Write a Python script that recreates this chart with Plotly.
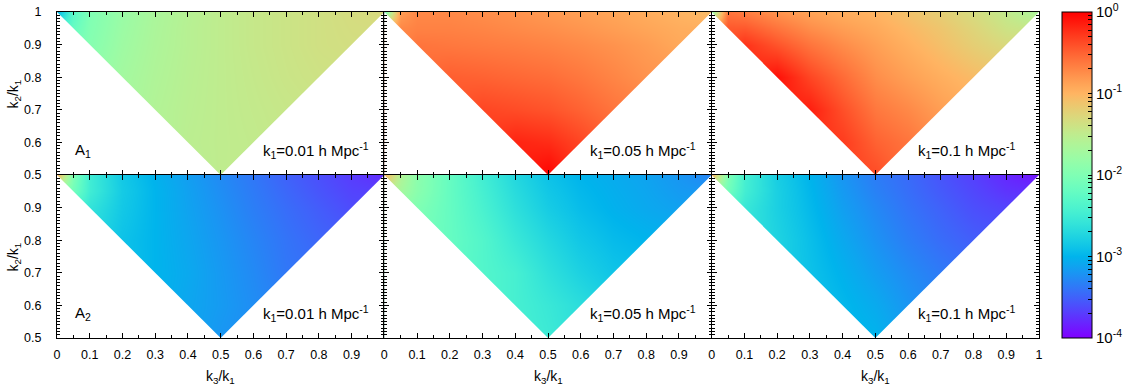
import math
import plotly.graph_objects as go
from plotly.subplots import make_subplots

N = None
# grid nodes (k3/k1 across, k2/k1 up); None = outside the triangle k3 <= k2, k2 + k3 >= k1
K3 = [0.0, 0.05, 0.1, 0.2, 0.3, 0.4, 0.5, 0.6, 0.7, 0.8, 0.9, 1.0]
K2 = [0.5, 0.6, 0.7, 0.8, 0.9, 0.95, 1.0]

# log10 of the amplitude, rows follow K2 (bottom to top)
A1_K001 = [
    [N, N, N, N, N, N, -1.50, N, N, N, N, N],
    [N, N, N, N, N, -1.53, -1.50, -1.48, N, N, N, N],
    [N, N, N, N, -1.60, -1.54, -1.50, -1.47, -1.44, N, N, N],
    [N, N, N, -1.72, -1.62, -1.55, -1.50, -1.46, -1.42, -1.39, N, N],
    [N, N, -1.95, -1.76, -1.64, -1.56, -1.50, -1.45, -1.41, -1.37, -1.35, N],
    [N, -2.20, -1.98, -1.78, -1.65, -1.56, -1.50, -1.45, -1.41, -1.37, -1.34, N],
    [-3.00, -2.30, -2.00, -1.80, -1.66, -1.57, -1.50, -1.45, -1.41, -1.37, -1.33, -1.30],
]
A1_K005 = [
    [N, N, N, N, N, N, -0.02, N, N, N, N, N],
    [N, N, N, N, N, -0.18, -0.22, -0.35, N, N, N, N],
    [N, N, N, N, -0.35, -0.38, -0.42, -0.50, -0.60, N, N, N],
    [N, N, N, -0.48, -0.50, -0.53, -0.56, -0.62, -0.70, -0.78, N, N],
    [N, N, -0.60, -0.62, -0.64, -0.66, -0.69, -0.73, -0.78, -0.84, -0.92, N],
    [N, -0.72, -0.68, -0.68, -0.70, -0.73, -0.76, -0.80, -0.85, -0.90, -0.95, N],
    [-2.00, -0.85, -0.72, -0.72, -0.75, -0.78, -0.82, -0.86, -0.90, -0.95, -1.00, -1.05],
]
A1_K01 = [
    [N, N, N, N, N, N, -0.38, N, N, N, N, N],
    [N, N, N, N, N, -0.30, -0.50, -0.60, N, N, N, N],
    [N, N, N, N, -0.15, -0.40, -0.62, -0.72, -0.85, N, N, N],
    [N, N, N, -0.08, -0.35, -0.55, -0.75, -0.86, -0.96, -1.05, N, N],
    [N, N, -0.25, -0.42, -0.60, -0.74, -0.86, -0.97, -1.08, -1.20, -1.30, N],
    [N, -0.45, -0.45, -0.60, -0.75, -0.85, -0.93, -1.03, -1.13, -1.26, -1.40, N],
    [-1.80, -0.60, -0.65, -0.78, -0.88, -0.95, -1.00, -1.10, -1.20, -1.33, -1.48, -1.65],
]
A2_K001 = [
    [N, N, N, N, N, N, -3.20, N, N, N, N, N],
    [N, N, N, N, N, -3.10, -3.17, -3.25, N, N, N, N],
    [N, N, N, N, -3.00, -3.08, -3.18, -3.27, -3.38, N, N, N],
    [N, N, N, -2.90, -3.00, -3.10, -3.20, -3.30, -3.40, -3.48, N, N],
    [N, N, -2.60, -2.85, -3.00, -3.12, -3.23, -3.34, -3.44, -3.53, -3.62, N],
    [N, -2.10, -2.50, -2.83, -3.00, -3.13, -3.25, -3.36, -3.47, -3.57, -3.66, N],
    [-1.00, -2.00, -2.50, -2.85, -3.02, -3.15, -3.27, -3.38, -3.50, -3.60, -3.70, -3.78],
]
A2_K005 = [
    [N, N, N, N, N, N, -2.52, N, N, N, N, N],
    [N, N, N, N, N, -2.45, -2.55, -2.66, N, N, N, N],
    [N, N, N, N, -2.35, -2.45, -2.63, -2.77, -2.88, N, N, N],
    [N, N, N, -2.20, -2.35, -2.55, -2.72, -2.86, -2.95, -3.00, N, N],
    [N, N, -2.00, -2.20, -2.42, -2.64, -2.82, -2.94, -3.02, -3.08, -3.13, N],
    [N, -1.70, -1.92, -2.20, -2.45, -2.68, -2.86, -2.97, -3.04, -3.10, -3.17, N],
    [-1.00, -1.60, -1.90, -2.20, -2.48, -2.72, -2.90, -3.00, -3.06, -3.12, -3.20, -3.30],
]
A2_K01 = [
    [N, N, N, N, N, N, -3.00, N, N, N, N, N],
    [N, N, N, N, N, -2.97, -3.07, -3.20, N, N, N, N],
    [N, N, N, N, -2.90, -3.02, -3.15, -3.26, -3.36, N, N, N],
    [N, N, N, -2.75, -2.92, -3.08, -3.22, -3.34, -3.44, -3.52, N, N],
    [N, N, -2.55, -2.78, -2.96, -3.14, -3.28, -3.40, -3.50, -3.60, -3.66, N],
    [N, -2.10, -2.47, -2.78, -2.98, -3.17, -3.32, -3.43, -3.54, -3.64, -3.74, N],
    [-1.00, -2.00, -2.45, -2.80, -3.00, -3.20, -3.35, -3.45, -3.57, -3.68, -3.80, -3.90],
]

GRIDS = [[A1_K001, A1_K005, A1_K01], [A2_K001, A2_K005, A2_K01]]
K1_LABELS = ["0.01", "0.05", "0.1"]
ROW_LABELS = ["A<sub>1</sub>", "A<sub>2</sub>"]
X_TICKS = [0, 0.1, 0.2, 0.3, 0.4, 0.5, 0.6, 0.7, 0.8, 0.9, 1.0]
X_TICKTEXT = ["0", "0.1", "0.2", "0.3", "0.4", "0.5", "0.6", "0.7", "0.8", "0.9", "1"]
Y_TICKS = [0.5, 0.6, 0.7, 0.8, 0.9, 1.0]
Y_TICKTEXT = ["0.5", "0.6", "0.7", "0.8", "0.9", "1"]
CB_MAJOR = [-4, -3, -2, -1, 0]
CB_MAJOR_TEXT = ["10<sup>-4</sup>", "10<sup>-3</sup>", "10<sup>-2</sup>", "10<sup>-1</sup>", "10<sup>0</sup>"]

X_RANGE = [0.0, 1.0]
Y_RANGE = [0.5, 1.0]

# gnuplot rgbformulae 33,13,10 palette
CS = []
for i in range(41):
    t = i / 40
    r = min(1.0, abs(2 * t - 0.5))
    g = max(0.0, math.sin(math.pi * t))
    b = max(0.0, math.cos(math.pi * t / 2))
    CS.append([t, f"rgb({round(r*255)},{round(g*255)},{round(b*255)})"])

# colorbar ticks: majors labelled, minors unlabelled
cb_vals, cb_text = [], []
for e in range(-4, 1):
    cb_vals.append(e)
    cb_text.append(CB_MAJOR_TEXT[CB_MAJOR.index(e)])
    if e < 0:
        for m in range(2, 10):
            cb_vals.append(e + math.log10(m))
            cb_text.append("")

fig = make_subplots(rows=2, cols=3, horizontal_spacing=0, vertical_spacing=0)

x0, x1 = X_RANGE
y0, y1 = Y_RANGE
xm = (x0 + x1) / 2
eps = 0.03
mask_left_x = [x0 - eps, x0 - eps, x0, xm + eps, x0 - eps]
mask_left_y = [y0 - eps, y1, y1, y0 - eps, y0 - eps]
mask_right_x = [xm - eps, x1, x1 + eps, x1 + eps, xm - eps]
mask_right_y = [y0 - eps, y1, y1, y0 - eps, y0 - eps]

FONT = "Liberation Sans, Arial, Helvetica, sans-serif"
annotations = []
for r in range(2):
    for c in range(3):
        row, col = r + 1, c + 1
        fig.add_trace(go.Heatmap(x=K3, y=K2, z=GRIDS[r][c], coloraxis="coloraxis",
                                 zsmooth="best", connectgaps=True, hoverinfo="skip"),
                      row=row, col=col)
        for mx, my in ((mask_left_x, mask_left_y), (mask_right_x, mask_right_y)):
            fig.add_trace(go.Scatter(x=mx, y=my, mode="lines", fill="toself",
                                     fillcolor="white", line=dict(width=0, color="white"),
                                     hoverinfo="skip", showlegend=False),
                          row=row, col=col)
        idx = r * 3 + c + 1
        xref = "x" if idx == 1 else f"x{idx}"
        yref = "y" if idx == 1 else f"y{idx}"
        if c == 0:
            annotations.append(dict(x=0.05, y=0.575, xref=xref, yref=yref, xanchor="left",
                                    yanchor="middle", showarrow=False, text=ROW_LABELS[r],
                                    font=dict(size=15)))
        annotations.append(dict(x=0.623, y=0.575, xref=xref, yref=yref, xanchor="left",
                                yanchor="middle", showarrow=False,
                                text=f"k<sub>1</sub>={K1_LABELS[c]} h Mpc<sup>-1</sup>",
                                font=dict(size=15)))
        xt = list(X_TICKTEXT)
        if c < 2:
            xt[-1] = ""
        yt = list(Y_TICKTEXT)
        if r == 1:
            yt[-1] = ""
        fig.update_xaxes(range=X_RANGE, showgrid=False, zeroline=False, showline=True,
                         linecolor="black", linewidth=1.2, mirror="ticks", ticks="inside",
                         ticklen=5, tickcolor="black", tickwidth=1, tickmode="array",
                         tickvals=X_TICKS, ticktext=xt, showticklabels=(r == 1),
                         ticklabelstandoff=5, tickfont=dict(size=12.5),
                         minor=dict(ticks="inside", ticklen=3, tickcolor="black",
                                    tickmode="linear", tick0=0, dtick=0.05, showgrid=False),
                         row=row, col=col)
        fig.update_yaxes(range=Y_RANGE, showgrid=False, zeroline=False, showline=True,
                         linecolor="black", linewidth=1.2, mirror="ticks", ticks="inside",
                         ticklen=5, tickcolor="black", tickwidth=1, tickmode="array",
                         tickvals=Y_TICKS, ticktext=yt, showticklabels=(c == 0),
                         ticklabelstandoff=12, tickfont=dict(size=12.5),
                         minor=dict(ticks="inside", ticklen=3, tickcolor="black",
                                    tickmode="linear", tick0=0.5, dtick=0.01, showgrid=False),
                         row=row, col=col)

for r, yc in enumerate([0.75, 0.25]):
    annotations.append(dict(x=-0.0438, y=yc, xref="paper", yref="paper", textangle=-90,
                            xanchor="center", yanchor="middle", showarrow=False,
                            text="k<sub>2</sub>/k<sub>1</sub>", font=dict(size=14)))
for xc in [1 / 6, 0.5, 5 / 6]:
    annotations.append(dict(x=xc, y=-0.12, xref="paper", yref="paper", xanchor="center",
                            yanchor="middle", showarrow=False,
                            text="k<sub>3</sub>/k<sub>1</sub>", font=dict(size=14)))

fig.update_layout(
    width=1134, height=391,
    margin=dict(l=57, r=95, t=12, b=53, autoexpand=False),
    paper_bgcolor="white", plot_bgcolor="white",
    font=dict(family=FONT, size=13, color="black"),
    showlegend=False,
    annotations=annotations,
    coloraxis=dict(
        cmin=-4, cmax=0, colorscale=CS,
        colorbar=dict(thickness=30, thicknessmode="pixels", len=1, lenmode="fraction",
                      y=0.5, yanchor="middle", x=(1062 - 57) / 982, xanchor="left",
                      xpad=0, ypad=0, outlinewidth=1, outlinecolor="black",
                      tickmode="array", tickvals=cb_vals, ticktext=cb_text,
                      ticks="inside", ticklen=4, tickcolor="black",
                      tickfont=dict(size=15)),
    ),
)

fig.write_html("out.html", config={"displayModeBar": False},
               post_script="document.body.style.margin='0px';")
